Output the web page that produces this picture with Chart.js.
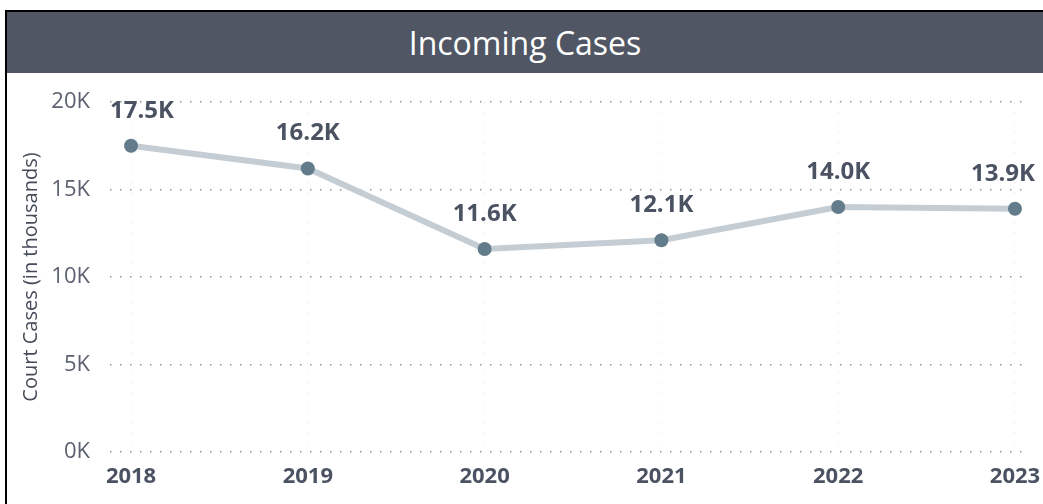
<!DOCTYPE html>
<html>
<head>
<meta charset="utf-8">
<script src="https://cdn.jsdelivr.net/npm/chart.js@4.4.1/dist/chart.umd.min.js"></script>
<style>
  html, body { margin: 0; padding: 0; background: #ffffff; overflow: hidden; }
  #wrap { position: relative; width: 1043px; height: 504px; }
  #c { position: absolute; left: 0; top: 0; }
  #frame {
    position: absolute; left: 5px; top: 10px; width: 1040px; height: 500px;
    border: 2px solid #000; box-sizing: border-box; pointer-events: none;
  }
  #bar {
    position: absolute; left: 0; top: 0; right: 0; height: 61px;
    background: #505663; color: #ffffff;
    font-family: "Open Sans", sans-serif; font-size: 32px;
    display: flex; align-items: center; justify-content: center;
  }
</style>
</head>
<body>
<div id="wrap">
  <canvas id="c" width="1043" height="504"></canvas>
  <div id="frame"><div id="bar">Incoming Cases</div></div>
</div>
<script>
const years = ['2018', '2019', '2020', '2021', '2022', '2023'];
const incomingCases = [17500, 16200, 11600, 12100, 14000, 13900];
const dataLabels = ['17.5K', '16.2K', '11.6K', '12.1K', '14.0K', '13.9K'];
const yTicks = [0, 5000, 10000, 15000, 20000];

const labelPlugin = {
  id: 'pointLabels',
  afterDatasetsDraw(chart) {
    const ctx = chart.ctx;
    const meta = chart.getDatasetMeta(0);
    const area = chart.chartArea;
    ctx.save();
    ctx.font = 'bold 24px "Open Sans"';
    ctx.fillStyle = '#4b5262';
    ctx.textBaseline = 'middle';
    ctx.textAlign = 'left';
    meta.data.forEach((pt, i) => {
      const t = dataLabels[i];
      const w = ctx.measureText(t).width;
      let x = pt.x - w / 2;
      if (x < area.left) x = area.left;
      if (x + w > area.right + 5) x = area.right + 5 - w;
      ctx.fillText(t, x, pt.y - 35);
    });
    ctx.restore();
  }
};

new Chart(document.getElementById('c'), {
  type: 'line',
  data: {
    datasets: [{
      data: incomingCases.map((v, i) => ({ x: i, y: v })),
      borderColor: '#c5cdd4',
      borderWidth: 6,
      pointRadius: 7,
      pointHoverRadius: 7,
      pointBackgroundColor: '#637c8b',
      pointBorderWidth: 0,
      tension: 0,
      clip: false
    }]
  },
  options: {
    responsive: false,
    animation: false,
    events: [],
    layout: { padding: { left: 10, right: 13, top: 102, bottom: 0 } },
    plugins: { legend: { display: false }, tooltip: { enabled: false } },
    scales: {
      x: {
        type: 'linear',
        min: -0.119,
        max: 5.085,
        afterBuildTicks: s => { s.ticks = years.map((_, i) => ({ value: i })); },
        afterFit: s => { s.height = 52; s.paddingLeft = 0; s.paddingRight = 0; },
        ticks: {
          callback: v => years[v],
          font: { family: 'Open Sans', size: 22, weight: 'bold' },
          color: '#4b5262',
          padding: 12,
          maxRotation: 0,
          autoSkip: false
        },
        grid: { color: '#ebebeb', lineWidth: 1, drawTicks: false },
        border: { display: false, dash: [1.5, 8.5] }
      },
      y: {
        min: 0,
        max: 20000,
        afterBuildTicks: s => { s.ticks = yTicks.map(v => ({ value: v })); },
        afterFit: s => { s.width = 100; s.paddingTop = 0; s.paddingBottom = 0; },
        ticks: {
          callback: v => (v / 1000) + 'K',
          font: { family: 'Open Sans', size: 22 },
          color: '#5b6170',
          padding: 20
        },
        title: {
          display: true,
          text: 'Court Cases (in thousands)',
          font: { family: 'Open Sans', size: 20 },
          color: '#454b58',
          padding: { top: 9, bottom: 0 }
        },
        grid: { color: '#8f949a', lineWidth: 1.5, drawTicks: false },
        border: { display: false, dash: [1.5, 8.5] }
      }
    }
  },
  plugins: [labelPlugin]
});
</script>
</body>
</html>
